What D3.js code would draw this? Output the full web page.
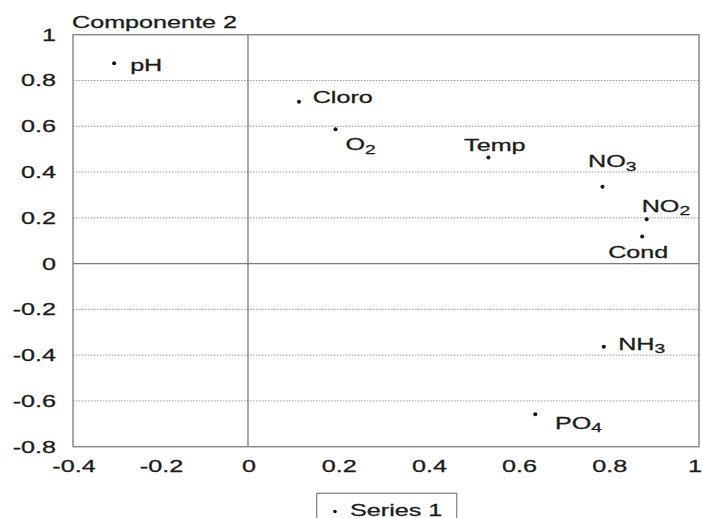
<!DOCTYPE html>
<html>
<head>
<meta charset="utf-8">
<script src="https://cdn.jsdelivr.net/npm/d3@7"></script>
<style>
  html, body { margin: 0; padding: 0; background: #fff; }
  svg { display: block; }
  text { font-family: "Liberation Sans", Arial, sans-serif; fill: #1c1c1c; stroke: #1c1c1c; stroke-width: 0.3px; }
</style>
</head>
<body>
<svg id="chart" width="702" height="518"></svg>
<script>
// Loadings of the water-quality variables on components 1 and 2
const variables = ["pH", "Cloro", "O", "Temp", "NO", "NO", "Cond", "NH", "PO"];
const subscripts = ["", "", "2", "", "3", "2", "", "3", "4"];
const comp1 = [-0.306, 0.113, 0.194, 0.533, 0.786, 0.884, 0.874, 0.789, 0.637];
const comp2 = [0.875, 0.707, 0.587, 0.464, 0.336, 0.194, 0.118, -0.363, -0.658];

const xTicks = [-0.4, -0.2, 0, 0.2, 0.4, 0.6, 0.8, 1];
const yTicks = [1, 0.8, 0.6, 0.4, 0.2, 0, -0.2, -0.4, -0.6, -0.8];
const xTickLabels = ["-0.4", "-0.2", "0", "0.2", "0.4", "0.6", "0.8", "1"];
const yTickLabels = ["1", "0.8", "0.6", "0.4", "0.2", "0", "-0.2", "-0.4", "-0.6", "-0.8"];
const yTitle = "Componente 2";
const seriesName = "Series 1";

const svg = d3.select("#chart");
const FS = 17;        // font size
const SX = 1.48;      // horizontal text stretch

const plotL = 73, plotR = 699, plotT = 34.7, plotB = 446.7;
const x = d3.scaleLinear().domain([-0.4, 0, 1]).range([plotL, 248, plotR]);
const y = d3.scaleLinear().domain([-0.8, 1]).range([plotB, plotT]);

// stretched text helper
function label(g, px, py, str, anchor, size) {
  return g.append("text")
    .attr("transform", `translate(${px},${py}) scale(${SX},1)`)
    .attr("text-anchor", anchor || "start")
    .style("font-size", (size || FS) + "px")
    .text(str);
}

// dotted horizontal grid
svg.append("g")
  .selectAll("line")
  .data(yTicks.filter(v => v !== 0 && v !== 1 && v !== -0.8))
  .join("line")
  .attr("x1", plotL).attr("x2", plotR)
  .attr("y1", d => y(d)).attr("y2", d => y(d))
  .attr("stroke", "#9a9a9a")
  .attr("stroke-width", 1)
  .attr("stroke-dasharray", "1.5,1.5");

// zero lines
svg.append("line")
  .attr("x1", plotL).attr("x2", plotR)
  .attr("y1", y(0)).attr("y2", y(0))
  .attr("stroke", "#7a7a7a").attr("stroke-width", 1.3);
svg.append("line")
  .attr("x1", x(0)).attr("x2", x(0))
  .attr("y1", plotT).attr("y2", plotB)
  .attr("stroke", "#7a7a7a").attr("stroke-width", 1.3);

// plot frame
svg.append("rect")
  .attr("x", plotL).attr("y", plotT)
  .attr("width", plotR - plotL).attr("height", plotB - plotT)
  .attr("fill", "none")
  .attr("stroke", "#8a8a8a").attr("stroke-width", 1.5);

// y tick labels
const gy = svg.append("g");
yTicks.forEach((v, i) => {
  label(gy, 56, y(v), yTickLabels[i], "end").attr("dy", "0.35em");
});

// x tick labels
const gx = svg.append("g");
xTicks.forEach((v, i) => {
  const px = v === 1 ? x(v) - 4 : x(v) + 1;
  label(gx, px, 471.5, xTickLabels[i], "middle");
});

// y axis title
label(svg, 72, 28, yTitle, "start");

// points
const pts = variables.map((v, i) => ({ name: v, sub: subscripts[i], cx: comp1[i], cy: comp2[i] }));
svg.append("g")
  .selectAll("circle")
  .data(pts)
  .join("circle")
  .attr("cx", d => x(d.cx))
  .attr("cy", d => y(d.cy))
  .attr("r", 2)
  .attr("fill", "#111");

// point labels: offset from each marker
const place = [
  [16, 8], [13.7, 1], [10, 21], [-24.3, -6.6], [-14.4, -19.4],
  [-5, -7.6], [-34, 21.6], [14.3, 3.3], [19.7, 14.7]
];
const gl = svg.append("g");
pts.forEach((d, i) => {
  const t = label(gl, x(d.cx) + place[i][0], y(d.cy) + place[i][1], d.name, "start");
  if (d.sub) {
    t.append("tspan")
      .attr("dy", 3.5)
      .style("font-size", "13px")
      .text(d.sub);
  }
});

// legend
const lg = svg.append("g");
lg.append("rect")
  .attr("x", 316.7).attr("y", 493.3)
  .attr("width", 140).attr("height", 40)
  .attr("fill", "#fff")
  .attr("stroke", "#8a8a8a").attr("stroke-width", 1.3);
lg.append("circle")
  .attr("cx", 335).attr("cy", 511.5).attr("r", 1.8).attr("fill", "#111");
label(lg, 350, 515.5, seriesName, "start");
</script>
</body>
</html>
